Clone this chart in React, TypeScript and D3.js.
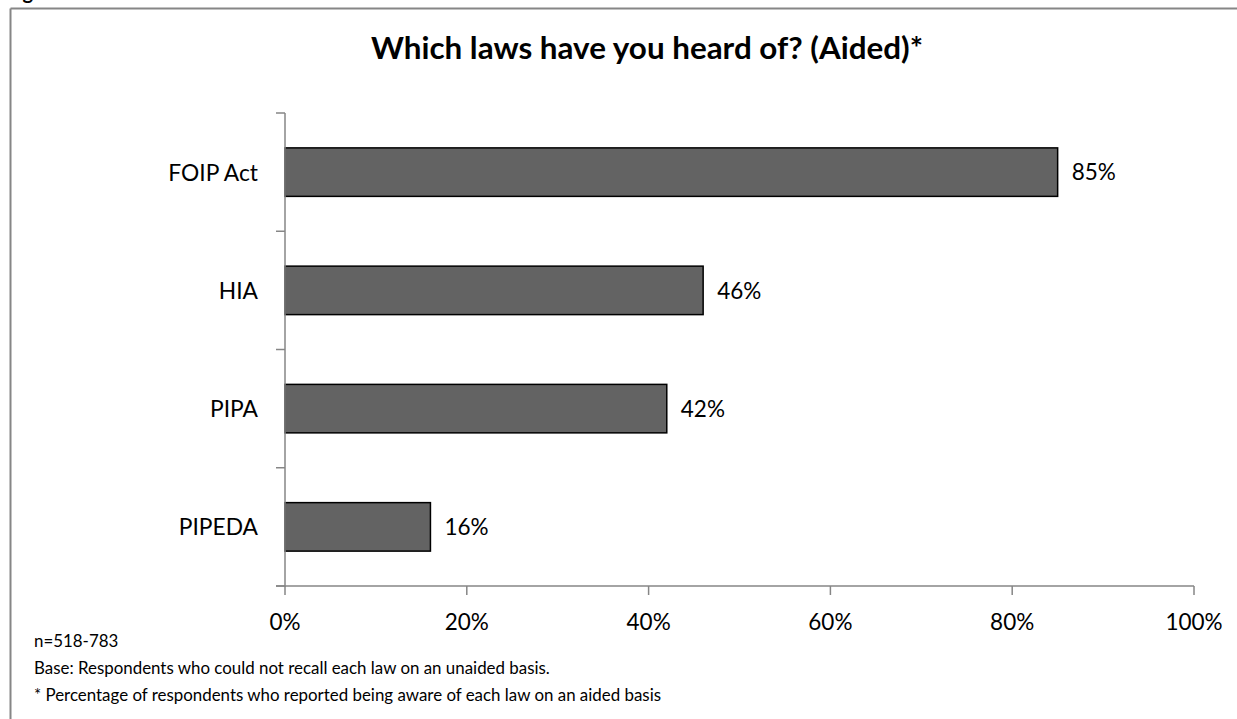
import React from "react";
import * as d3 from "d3";

const categories = ["FOIP Act", "HIA", "PIPA", "PIPEDA"];
const values = [85, 46, 42, 16];
const xTicks = [0, 20, 40, 60, 80, 100];
const title = "Which laws have you heard of? (Aided)*";
const notes = [
  "n=518-783",
  "Base: Respondents who could not recall each law on an unaided basis.",
  "* Percentage of respondents who reported being aware of each law on an aided basis",
];

const W = 1237;
const H = 719;
const FONT = "Lato, 'Open Sans', sans-serif";

export default function App() {
  const left = 285;
  const right = 1194;
  const top = 113;
  const bottom = 586;

  const x = d3.scaleLinear().domain([0, 100]).range([left, right]);
  const y = d3
    .scaleBand<string>()
    .domain(categories)
    .range([top, bottom])
    .paddingInner(0.59)
    .paddingOuter(0.295);

  const step = y.step();
  const boundaries = d3.range(categories.length + 1).map((i) => top + i * step);

  return (
    <svg
      width={W}
      height={H}
      style={{ position: "absolute", left: 0, top: 0, background: "#fff" }}
      fontFamily={FONT}
    >
      <text x={6} y={-1} fontSize={20} fontWeight="bold" fill="#000">
        Figure 8
      </text>
      {/* frame */}
      <line x1={10.5} y1={8.5} x2={W} y2={8.5} stroke="#868686" strokeWidth={2} />
      <line x1={10.5} y1={8.5} x2={10.5} y2={H} stroke="#868686" strokeWidth={2} />

      <text x={647} y={59} textAnchor="middle" fontSize={31.4} fontWeight="bold" fill="#000">
        {title}
      </text>

      {/* bars */}
      {categories.map((c, i) => (
        <rect
          key={c}
          x={x(0)}
          y={y(c)!}
          width={x(values[i]) - x(0)}
          height={y.bandwidth()}
          fill="#636363"
          stroke="#000"
          strokeWidth={1.5}
        />
      ))}

      {/* y axis */}
      <line x1={left} y1={top} x2={left} y2={bottom + 1} stroke="#868686" strokeWidth={1.5} />
      {boundaries.map((b, i) => (
        <line key={i} x1={left - 9} y1={b} x2={left} y2={b} stroke="#868686" strokeWidth={1.5} />
      ))}
      {/* x axis */}
      <line x1={left - 9} y1={bottom} x2={right} y2={bottom} stroke="#868686" strokeWidth={1.5} />
      {xTicks.map((t) => (
        <line key={t} x1={x(t)} y1={bottom} x2={x(t)} y2={bottom + 9} stroke="#868686" strokeWidth={1.5} />
      ))}
      {xTicks.map((t) => (
        <text key={"l" + t} x={x(t)} y={630} textAnchor="middle" fontSize={22.5} fill="#000">
          {t}%
        </text>
      ))}

      {/* category labels */}
      {categories.map((c) => (
        <text
          key={"c" + c}
          x={258}
          y={y(c)! + y.bandwidth() / 2}
          dy="0.37em"
          textAnchor="end"
          fontSize={22.8}
          fill="#000"
        >
          {c}
        </text>
      ))}

      {/* value labels */}
      {categories.map((c, i) => (
        <text
          key={"v" + c}
          x={x(values[i]) + 14}
          y={y(c)! + y.bandwidth() / 2}
          dy="0.37em"
          fontSize={22.5}
          fill="#000"
        >
          {values[i]}%
        </text>
      ))}

      {/* notes */}
      {notes.map((n, i) => (
        <text key={"n" + i} x={34} y={647 + i * 27} fontSize={16.9} fill="#000">
          {n}
        </text>
      ))}
    </svg>
  );
}
